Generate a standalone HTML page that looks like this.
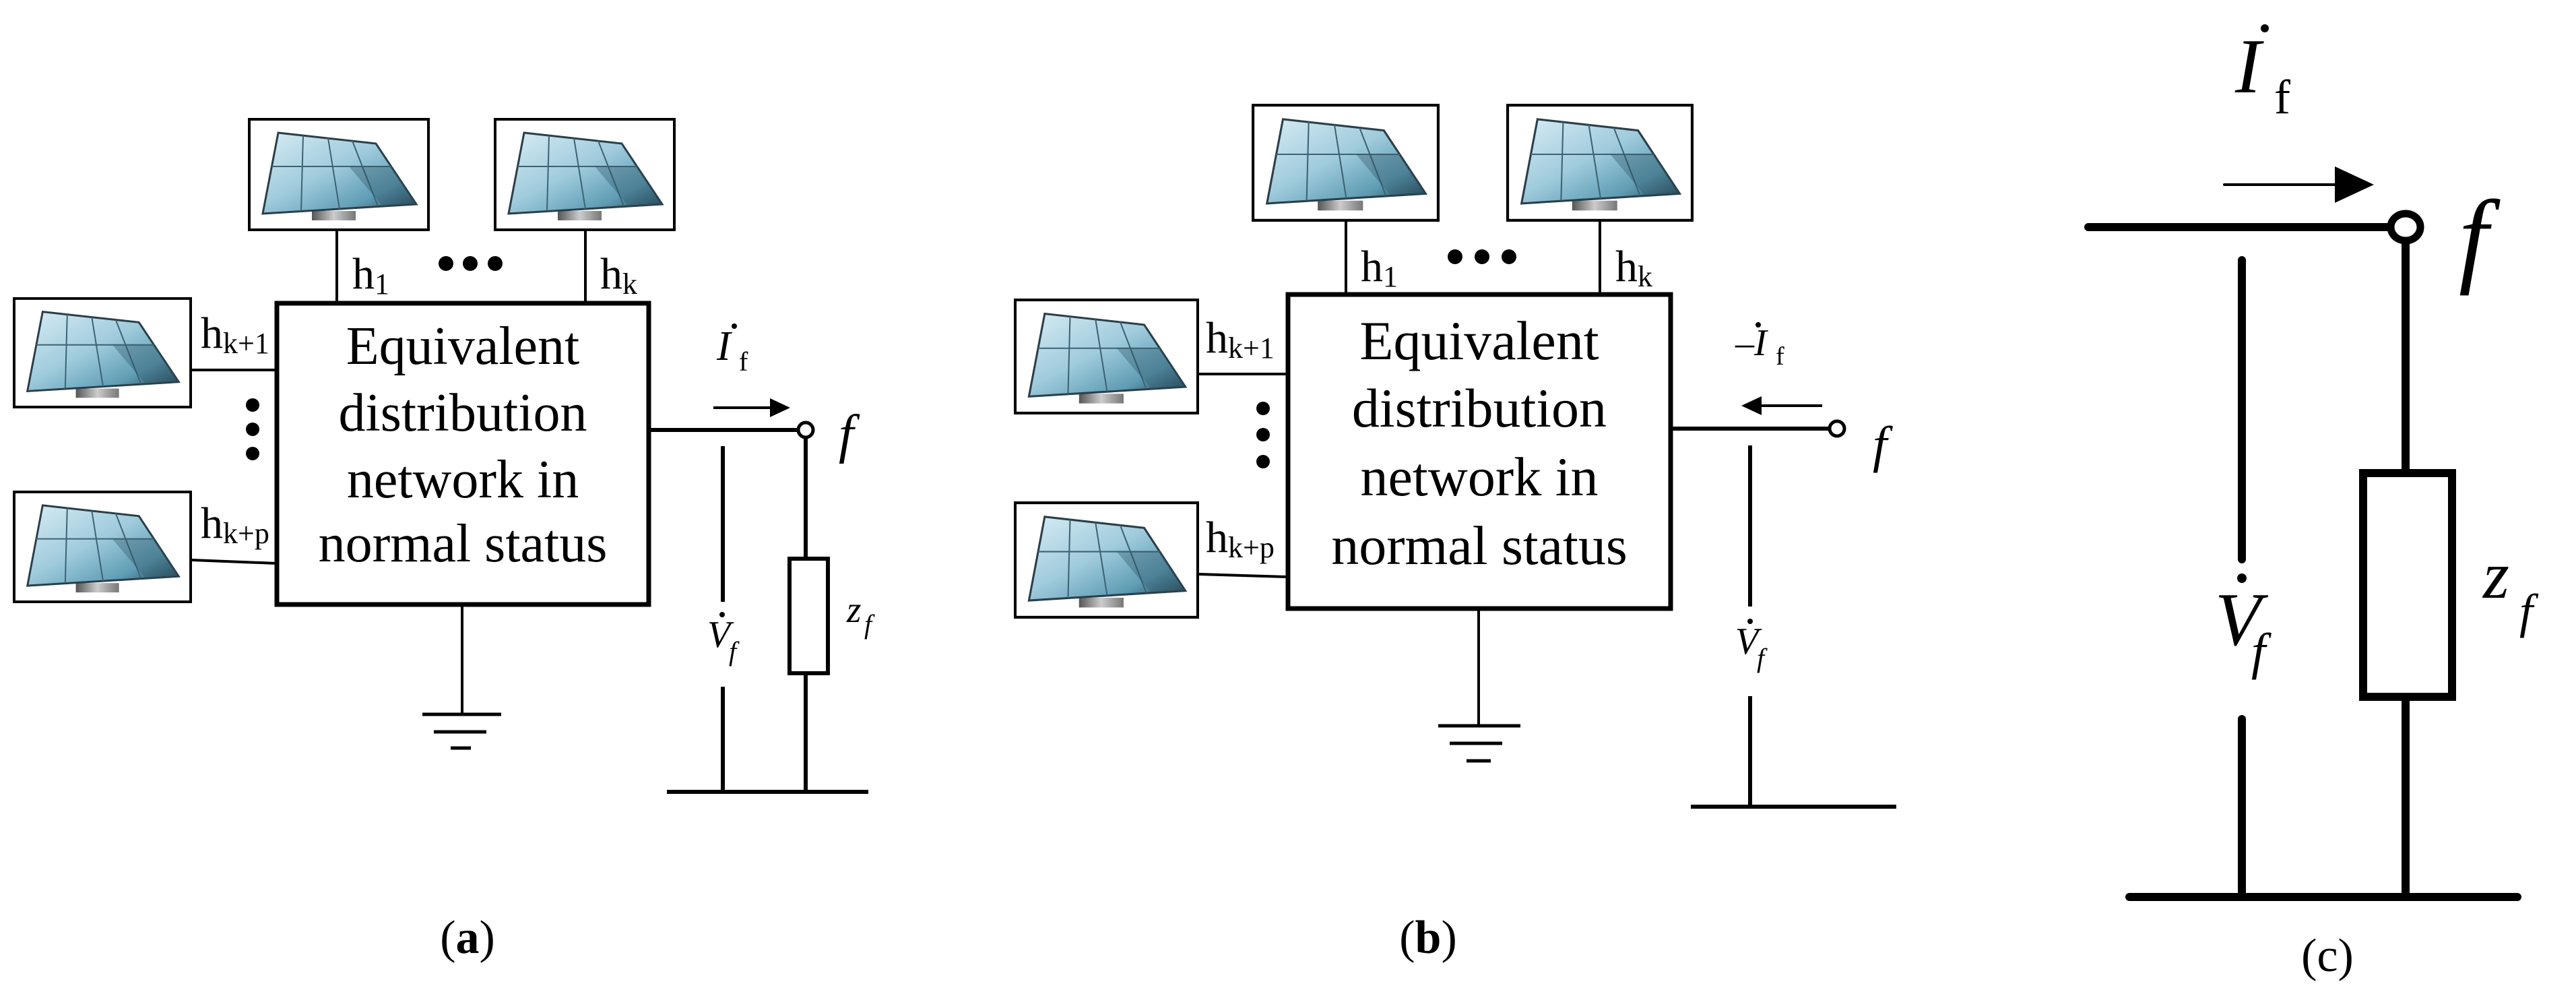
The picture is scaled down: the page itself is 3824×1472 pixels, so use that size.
<!DOCTYPE html>
<html><head><meta charset="utf-8"><style>
html,body{margin:0;padding:0;background:#fff;}
body{position:relative;width:3824px;height:1472px;overflow:hidden;}
svg{display:block;position:absolute;left:0;top:0;}
.bt{position:absolute;font-family:"Liberation Serif","Times New Roman",serif;color:#000;text-align:center;white-space:nowrap;line-height:1;}
</style></head><body>
<svg width="3824" height="1472" viewBox="0 0 3824 1472" xmlns="http://www.w3.org/2000/svg" font-family="Liberation Serif, DejaVu Serif, serif">
<defs>
<linearGradient id="pg" x1="0" y1="0" x2="1" y2="1">
<stop offset="0" stop-color="#d8ecf4"/><stop offset="0.45" stop-color="#9fcbdc"/><stop offset="0.75" stop-color="#5f9db5"/><stop offset="1" stop-color="#1e3a48"/>
</linearGradient>
<linearGradient id="sg" x1="0" y1="0" x2="1" y2="0">
<stop offset="0" stop-color="#555"/><stop offset="0.5" stop-color="#ccc"/><stop offset="1" stop-color="#777"/>
</linearGradient>
<symbol id="pv" viewBox="0 0 270 168" preserveAspectRatio="none">
<rect x="0" y="0" width="270" height="168" fill="#fff"/>
<rect x="95" y="138" width="65" height="14" fill="url(#sg)"/>
<polygon points="45,22 190,38 250,128 22,142" fill="url(#pg)" stroke="#2a3f4a" stroke-width="3"/>
<g stroke="#3d6273" stroke-width="2" fill="none">
<line x1="82" y1="26" x2="79" y2="138"/><line x1="119" y1="30" x2="136" y2="135"/><line x1="155" y1="34" x2="193" y2="131"/>
<line x1="35" y1="72" x2="213" y2="72"/>
</g>
<polygon points="150,72 213,72 250,128 200,131" fill="#2c4f60" opacity="0.35"/>
<rect x="2" y="2" width="266" height="164" fill="none" stroke="#000" stroke-width="4"/>
</symbol>
</defs>

<use href="#pv" x="368" y="175" width="270" height="168"/>
<use href="#pv" x="733" y="175" width="270" height="168"/>
<use href="#pv" x="19" y="441" width="266" height="165"/>
<use href="#pv" x="19" y="728" width="266" height="167"/>
<g stroke="#000" stroke-width="4" fill="none">
<line x1="500" y1="343" x2="500" y2="450"/>
<line x1="869" y1="343" x2="869" y2="450"/>
<line x1="285" y1="549" x2="411" y2="549"/>
<line x1="285" y1="831" x2="411" y2="836"/>
<line x1="686" y1="897" x2="686" y2="1060"/>
<line x1="627" y1="1060" x2="744" y2="1060" stroke-width="5"/>
<line x1="644" y1="1086" x2="722" y2="1086" stroke-width="5"/>
<line x1="669" y1="1110" x2="699" y2="1110" stroke-width="5"/>
</g>
<rect x="411" y="450" width="552" height="447" fill="none" stroke="#000" stroke-width="7"/>
<circle cx="662" cy="391" r="11"/><circle cx="698" cy="391" r="11"/><circle cx="735" cy="391" r="11"/>
<circle cx="375" cy="601" r="10"/><circle cx="375" cy="637" r="10"/><circle cx="375" cy="673" r="10"/>
<text x="523" y="428" font-size="66">h<tspan font-size="44" dy="8">1</tspan></text>
<text x="891" y="428" font-size="66">h<tspan font-size="44" dy="8">k</tspan></text>
<text x="298" y="516" font-size="66">h<tspan font-size="44" dy="8">k+1</tspan></text>
<text x="298" y="798" font-size="66">h<tspan font-size="44" dy="8">k+p</tspan></text>
<line x1="963" y1="638" x2="1184" y2="638" stroke="#000" stroke-width="6"/>
<circle cx="1196" cy="638" r="11" fill="#fff" stroke="#000" stroke-width="5"/>
<line x1="1196" y1="650" x2="1196" y2="827" stroke="#000" stroke-width="6"/>
<rect x="1172" y="829" width="57" height="170" fill="none" stroke="#000" stroke-width="6"/>
<line x1="1196" y1="1001" x2="1196" y2="1175" stroke="#000" stroke-width="6"/>
<line x1="990" y1="1175" x2="1289" y2="1175" stroke="#000" stroke-width="6"/>
<line x1="1073" y1="662" x2="1073" y2="893" stroke="#000" stroke-width="6"/>
<line x1="1073" y1="1019" x2="1073" y2="1175" stroke="#000" stroke-width="6"/>
<line x1="1059" y1="605" x2="1145" y2="605" stroke="#000" stroke-width="4"/>
<polygon points="1143,591 1173,605 1143,619"/>
<text x="1064" y="534" font-size="62" font-style="italic">I</text>
<text x="1097" y="550" font-size="40">f</text>
<text x="1245" y="671" font-size="80" font-style="italic">f</text>
<text x="1257" y="923" font-size="55" font-style="italic">z</text>
<text x="1283" y="940" font-size="40" font-style="italic">f</text>
<text x="1050" y="960" font-size="56" font-style="italic">V</text>
<text x="1082" y="980" font-size="40" font-style="italic">f</text>
<text x="694" y="1414" font-size="70" text-anchor="middle">(<tspan font-weight="bold">a</tspan>)</text>
<circle cx="1090" cy="484" r="4"/>
<circle cx="1072" cy="912" r="4"/>

<use href="#pv" x="1858" y="154" width="279" height="175"/>
<use href="#pv" x="2236" y="154" width="278" height="175"/>
<use href="#pv" x="1505" y="443" width="275" height="172"/>
<use href="#pv" x="1505" y="744" width="275" height="174"/>
<g stroke="#000" stroke-width="4" fill="none">
<line x1="1998" y1="329" x2="1998" y2="437"/>
<line x1="2375" y1="329" x2="2375" y2="437"/>
<line x1="1780" y1="555" x2="1912" y2="555"/>
<line x1="1780" y1="852" x2="1912" y2="856"/>
<line x1="2195" y1="903" x2="2195" y2="1077"/>
<line x1="2135" y1="1077" x2="2257" y2="1077" stroke-width="5"/>
<line x1="2152" y1="1103" x2="2230" y2="1103" stroke-width="5"/>
<line x1="2177" y1="1129" x2="2213" y2="1129" stroke-width="5"/>
</g>
<rect x="1912" y="437" width="568" height="466" fill="none" stroke="#000" stroke-width="7"/>
<circle cx="2160" cy="381" r="11"/><circle cx="2200" cy="381" r="11"/><circle cx="2240" cy="381" r="11"/>
<circle cx="1875" cy="606" r="10"/><circle cx="1875" cy="645" r="10"/><circle cx="1875" cy="685" r="10"/>
<text x="2020" y="417" font-size="66">h<tspan font-size="44" dy="8">1</tspan></text>
<text x="2398" y="417" font-size="66">h<tspan font-size="44" dy="8">k</tspan></text>
<text x="1790" y="523" font-size="66">h<tspan font-size="44" dy="8">k+1</tspan></text>
<text x="1790" y="819" font-size="66">h<tspan font-size="44" dy="8">k+p</tspan></text>
<line x1="2480" y1="636" x2="2715" y2="636" stroke="#000" stroke-width="6"/>
<circle cx="2727" cy="636" r="11" fill="#fff" stroke="#000" stroke-width="5"/>
<line x1="2598" y1="661" x2="2598" y2="900" stroke="#000" stroke-width="6"/>
<line x1="2598" y1="1033" x2="2598" y2="1197" stroke="#000" stroke-width="6"/>
<line x1="2510" y1="1197" x2="2815" y2="1197" stroke="#000" stroke-width="6"/>
<line x1="2613" y1="602" x2="2705" y2="602" stroke="#000" stroke-width="4"/>
<polygon points="2615,588 2585,602 2615,616"/>
<text x="2576" y="527" font-size="56">–<tspan font-style="italic">I</tspan></text>
<text x="2636" y="541" font-size="38">f</text>
<text x="2780" y="685" font-size="76" font-style="italic">f</text>
<text x="2576" y="970" font-size="56" font-style="italic">V</text>
<text x="2608" y="990" font-size="40" font-style="italic">f</text>
<text x="2120" y="1414" font-size="70" text-anchor="middle">(<tspan font-weight="bold">b</tspan>)</text>
<circle cx="2610" cy="482" r="4"/>
<circle cx="2598" cy="922" r="4"/>

<g stroke="#000" stroke-width="12" stroke-linecap="round" fill="none">
<line x1="3100" y1="337" x2="3547" y2="337"/>
<line x1="3571" y1="362" x2="3571" y2="702"/>
<line x1="3571" y1="1034" x2="3571" y2="1331"/>
<line x1="3161" y1="1331" x2="3737" y2="1331"/>
<line x1="3328" y1="386" x2="3328" y2="830"/>
<line x1="3328" y1="1067" x2="3328" y2="1331"/>
</g>
<rect x="3508" y="702" width="132" height="332" fill="none" stroke="#000" stroke-width="12"/>
<ellipse cx="3571" cy="337" rx="22" ry="20" fill="#fff" stroke="#000" stroke-width="11"/>
<line x1="3302" y1="274" x2="3470" y2="274" stroke="#000" stroke-width="4" stroke-linecap="round"/>
<polygon points="3466,247 3524,274 3466,301"/>
<text x="3318" y="137" font-size="115" font-style="italic">I</text>
<text x="3376" y="168" font-size="72">f</text>
<text x="3650" y="405" font-size="157" font-style="italic">f</text>
<text x="3288" y="957" font-size="112" font-style="italic">V</text>
<text x="3342" y="992" font-size="76" font-style="italic">f</text>
<text x="3686" y="887" font-size="100" font-style="italic">z</text>
<text x="3740" y="931" font-size="72" font-style="italic">f</text>
<text x="3455" y="1441" font-size="70" text-anchor="middle">(c)</text>
<circle cx="3362" cy="42" r="6"/>
<circle cx="3328" cy="858" r="7"/>
</svg>
<div class="bt" style="left:411px;width:552px;top:474px;font-size:80px;">Equivalent</div>
<div class="bt" style="left:411px;width:552px;top:573px;font-size:80px;">distribution</div>
<div class="bt" style="left:411px;width:552px;top:672px;font-size:80px;">network in</div>
<div class="bt" style="left:411px;width:552px;top:767px;font-size:80px;">normal status</div>
<div class="bt" style="left:1912px;width:568px;top:465px;font-size:82px;">Equivalent</div>
<div class="bt" style="left:1912px;width:568px;top:565px;font-size:82px;">distribution</div>
<div class="bt" style="left:1912px;width:568px;top:667px;font-size:82px;">network in</div>
<div class="bt" style="left:1912px;width:568px;top:769px;font-size:82px;">normal status</div>
</body></html>
